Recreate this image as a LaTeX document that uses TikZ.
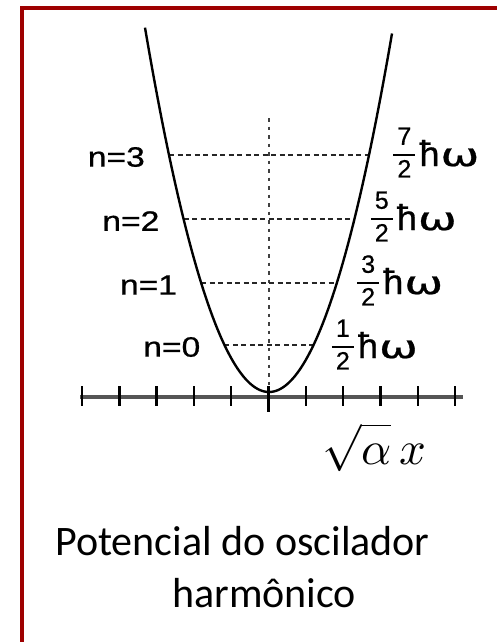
\documentclass[tikz,border=0pt]{standalone}
\usepackage{fontspec}
\usepackage{unicode-math}
\setmathfont{Latin Modern Math}
\newfontfamily\arialf[FakeBold=0.7]{Liberation Sans}
\newfontfamily\omegaf[FakeBold=0.7]{DejaVu Sans}
\newfontfamily\calib{Carlito}
\definecolor{framered}{RGB}{158,0,0}
\definecolor{axisgray}{RGB}{85,85,85}
\newcommand\fd[1]{\hbox{\arialf\fontsize{25}{28}\selectfont\kern4pt #1\kern4pt}}
\newcommand\efr[1]{\genfrac{}{}{2.6pt}{0}{\fd{#1}}{\fd{2}}}
\newcommand\hw{\kern3pt\raisebox{-5pt}{\arialf\fontsize{36}{40}\selectfont ħ\kern1pt\omegaf\fontsize{32}{36}\selectfont\scalebox{1.45}[1]{ω}}}
\begin{document}
\begin{tikzpicture}[x=1pt,y=-1pt,
  frame/.style={draw=framered,line width=4pt},
  curve/.style={line width=2.4pt,black,line join=round},
  levelline/.style={line width=1.8pt,black!85,dash pattern=on 5pt off 3.5pt},
  centerline/.style={line width=1.8pt,black!75,dash pattern=on 3.5pt off 5pt},
  axisline/.style={line width=4pt,axisgray},
  tickmark/.style={line width=2.4pt,black},
  nlabel/.style={inner sep=0pt,anchor=east,font=\arialf\fontsize{28}{32}\selectfont},
  elabel/.style={inner sep=0pt,anchor=base west,font=\fontsize{24}{28}\selectfont},
  caption/.style={inner sep=0pt,anchor=base west,font=\calib\fontsize{42}{50}\selectfont}]
\useasboundingbox (0,0) rectangle (497,642);
\clip (0,0) rectangle (497,642);
\draw[frame] (22,680) -- (22,8) -- (540,8);
% centre line and axis
\coordinate (ctop) at (269,118);
\coordinate (cbot) at (269,397);
\draw[centerline] (ctop) -- (cbot);
\coordinate (ax0) at (80,397);
\coordinate (ax1) at (463,397);
\draw[axisline] (ax0) -- (ax1);
\foreach \k in {0,1,2,3,4,6,7,8,9,10} {
  \draw[tickmark] ({82+37.3*\k},386) -- ({82+37.3*\k},406);
}
\draw[tickmark] (268.5,386) -- (268.5,412);
% levels
\foreach \n/\yy in {3/155,2/219,1/283,0/345} {
  \coordinate (L\n) at ({269-sqrt((392-\yy)/0.0237)},\yy);
  \coordinate (R\n) at ({269+sqrt((392-\yy)/0.0237)},\yy);
  \draw[levelline] (L\n) -- (R\n);
  \node[nlabel] (nl\n) at ([xshift=-24pt,yshift=-2pt]L\n) {\scalebox{1.2}[1]{n=\n}};
}
% potential
\draw[curve] plot[domain=-124:123,samples=121,smooth] ({269+\x},{392-0.0237*\x*\x});
% energy labels
\node[elabel] (e3) at ([xshift=23pt,yshift=-6pt]R3) {$\efr{7}$\hw};
\node[elabel] (e2) at ([xshift=15pt,yshift=-6pt]R2) {$\efr{5}$\hw};
\node[elabel] (e1) at ([xshift=19pt,yshift=-6pt]R1) {$\efr{3}$\hw};
\node[elabel] (e0) at ([xshift=17pt,yshift=-8pt]R0) {$\efr{1}$\hw};
% axis label
\node[inner sep=0pt,anchor=base] (axlabel) at (374,464) {\fontsize{47}{50}\selectfont$\sqrt{\rule{0pt}{0.6em}\alpha}\,x$};
% caption
\node[caption] (cap1) at (55,555) {Potencial do oscilador};
\node[caption] (cap2) at (172,607) {harmônico};
\end{tikzpicture}
\end{document}
